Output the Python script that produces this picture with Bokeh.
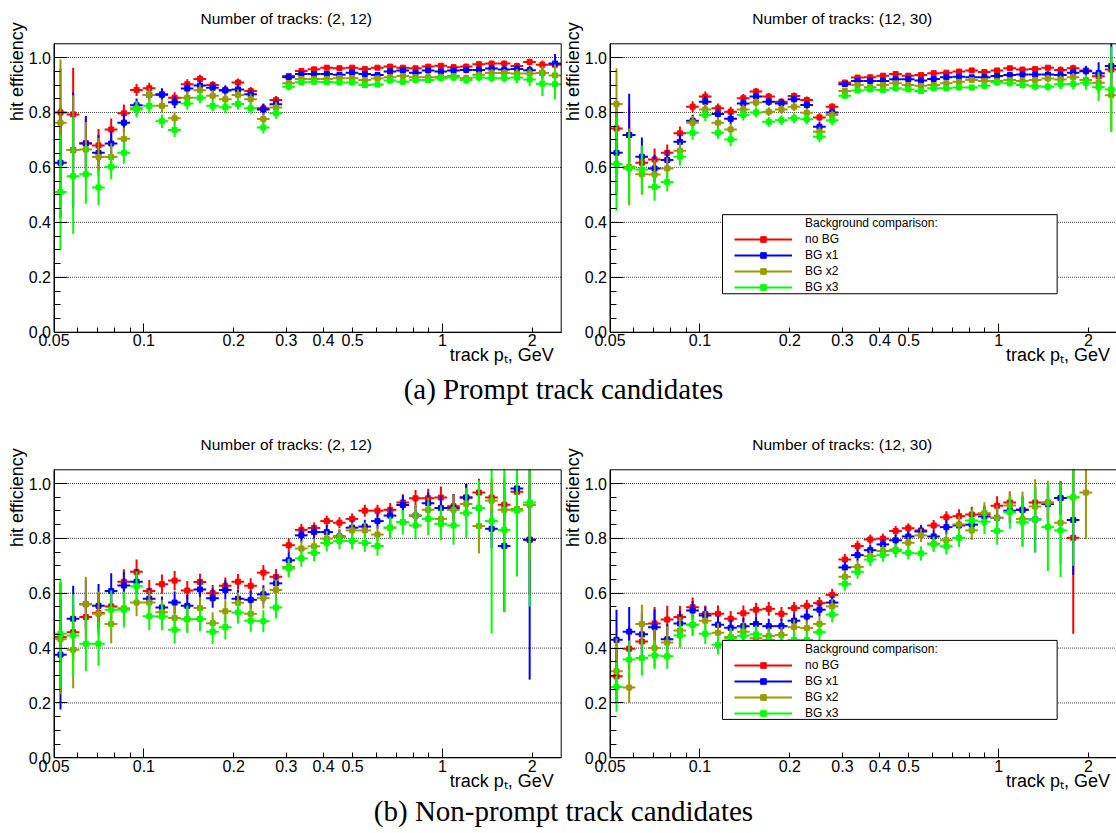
import math
from bokeh.plotting import figure
from bokeh.models import (ColumnDataSource, FixedTicker, PrintfTickFormatter,
                          CustomJSTickFormatter, Label, Legend, LegendItem,
                          BoxAnnotation, LogAxis, LinearAxis, Range1d)
from bokeh.layouts import column, row
from bokeh.embed import file_html
from bokeh.resources import INLINE

# ---------------- data ----------------
PT_EDGES = [0.05, 0.055137, 0.060802, 0.067049, 0.073938, 0.081534, 0.089911, 0.099149, 0.109336, 0.120570,
            0.132957, 0.146618, 0.161682, 0.178294, 0.196612, 0.216812, 0.239088, 0.263653, 0.290741, 0.320613,
            0.353553, 0.389878, 0.429936, 0.474108, 0.522819, 0.576535, 0.635770, 0.701090, 0.773122, 0.852559,
            0.940148, 1.036746, 1.143265, 1.260729, 1.390257, 1.533093, 1.690608, 1.864310, 2.055853, 2.267076,
            2.5]

SERIES_NAMES = ["no BG", "BG x1", "BG x2", "BG x3"]
SERIES_COLORS = ["#ff0000", "#0000ff", "#999900", "#00ff00"]
LEGEND_HEADER = "Background comparison:"
TITLES = ["Number of tracks: (2, 12)", "Number of tracks: (12, 30)"]
CAPTIONS = ["(a) Prompt track candidates", "(b) Non-prompt track candidates"]
Y_LABEL = "hit efficiency"
X_LABEL = "track p\u209c, GeV"

X_TICKS = [0.05, 0.1, 0.2, 0.3, 0.4, 0.5, 1, 2]
X_DECADE_TICKS = [0.1, 1]
X_MINOR = [0.06, 0.07, 0.08, 0.09, 0.6, 0.7, 0.8, 0.9]
Y_TICKS = [0.0, 0.2, 0.4, 0.6, 0.8, 1.0]
Y_MINOR = [0.05, 0.1, 0.15, 0.25, 0.3, 0.35, 0.45, 0.5, 0.55, 0.65, 0.7, 0.75, 0.85, 0.9, 0.95]
Y_GRID = [0.2, 0.4, 0.6, 0.8, 1.0]

# (a) prompt, tracks (2, 12)
A1_RED = [0.800, 0.793, 0.688, 0.680, 0.738, 0.797, 0.882, 0.888, 0.864, 0.854,
          0.903, 0.922, 0.900, 0.882, 0.909, 0.878, 0.815, 0.845, 0.933, 0.951,
          0.957, 0.963, 0.961, 0.963, 0.958, 0.963, 0.967, 0.963, 0.961, 0.967,
          0.970, 0.965, 0.967, 0.976, 0.978, 0.978, 0.969, 0.984, 0.974, 0.974]
A1_BLUE = [0.617, 0.663, 0.687, 0.653, 0.687, 0.763, 0.826, 0.864, 0.866, 0.837,
           0.887, 0.898, 0.890, 0.880, 0.884, 0.866, 0.811, 0.830, 0.928, 0.940,
           0.940, 0.940, 0.937, 0.945, 0.940, 0.936, 0.949, 0.953, 0.945, 0.953,
           0.949, 0.953, 0.955, 0.955, 0.960, 0.956, 0.958, 0.954, 0.944, 0.978]
A1_GOLD = [0.763, 0.663, 0.665, 0.638, 0.638, 0.704, 0.815, 0.864, 0.824, 0.779,
           0.854, 0.881, 0.861, 0.848, 0.864, 0.848, 0.776, 0.818, 0.906, 0.922,
           0.922, 0.922, 0.925, 0.925, 0.918, 0.924, 0.928, 0.933, 0.928, 0.928,
           0.930, 0.933, 0.925, 0.937, 0.944, 0.944, 0.942, 0.942, 0.944, 0.935]
A1_GREEN = [0.510, 0.568, 0.575, 0.527, 0.602, 0.653, 0.811, 0.824, 0.768, 0.736,
            0.833, 0.854, 0.824, 0.819, 0.831, 0.815, 0.745, 0.797, 0.894, 0.910,
            0.912, 0.911, 0.909, 0.909, 0.900, 0.902, 0.916, 0.912, 0.918, 0.918,
            0.925, 0.927, 0.918, 0.927, 0.925, 0.925, 0.927, 0.920, 0.905, 0.903]
A1_RED_ERR = [0.16, 0.17, 0.09, 0.06, 0.04, 0.032, 0.022, 0.02, 0.02, 0.02,
              0.018, 0.015, 0.015, 0.015, 0.015, 0.015, 0.018, 0.015, 0.01, 0.008,
              0.008, 0.008, 0.008, 0.008, 0.008, 0.008, 0.008, 0.008, 0.008, 0.008,
              0.008, 0.008, 0.01, 0.01, 0.01, 0.01, 0.012, 0.012, 0.015, 0.018]
A1_BLUE_ERR = [0.2, 0.21, 0.1, 0.065, 0.045, 0.035, 0.025, 0.022, 0.022, 0.022,
               0.02, 0.018, 0.018, 0.018, 0.018, 0.018, 0.02, 0.018, 0.012, 0.01,
               0.01, 0.01, 0.01, 0.01, 0.01, 0.01, 0.01, 0.01, 0.01, 0.01,
               0.01, 0.01, 0.012, 0.012, 0.012, 0.014, 0.015, 0.016, 0.02, 0.035]
A1_GOLD_ERR = [0.23, 0.2, 0.1, 0.07, 0.05, 0.04, 0.027, 0.024, 0.024, 0.024,
               0.022, 0.02, 0.02, 0.02, 0.02, 0.02, 0.022, 0.02, 0.012, 0.01,
               0.01, 0.01, 0.01, 0.01, 0.01, 0.01, 0.01, 0.01, 0.01, 0.01,
               0.011, 0.011, 0.012, 0.012, 0.013, 0.014, 0.016, 0.018, 0.025, 0.04]
A1_GREEN_ERR = [0.21, 0.21, 0.107, 0.065, 0.045, 0.04, 0.028, 0.025, 0.025, 0.025,
                0.022, 0.02, 0.02, 0.02, 0.02, 0.02, 0.022, 0.02, 0.013, 0.011,
                0.011, 0.011, 0.011, 0.011, 0.011, 0.011, 0.011, 0.011, 0.011, 0.012,
                0.012, 0.012, 0.013, 0.014, 0.015, 0.016, 0.02, 0.025, 0.045, 0.055]

# (a) prompt, tracks (12, 30)
A2_RED = [0.742, 0.718, 0.617, 0.629, 0.653, 0.724, 0.821, 0.858, 0.815, 0.803,
          0.852, 0.876, 0.858, 0.839, 0.860, 0.845, 0.782, 0.821, 0.909, 0.927,
          0.928, 0.934, 0.940, 0.934, 0.936, 0.943, 0.945, 0.949, 0.953, 0.947,
          0.953, 0.961, 0.956, 0.958, 0.963, 0.955, 0.961, 0.953, 0.932, 0.956]
A2_BLUE = [0.653, 0.718, 0.639, 0.596, 0.627, 0.693, 0.770, 0.839, 0.794, 0.777,
           0.833, 0.858, 0.839, 0.833, 0.848, 0.827, 0.748, 0.800, 0.903, 0.915,
           0.915, 0.915, 0.921, 0.921, 0.916, 0.922, 0.928, 0.930, 0.928, 0.928,
           0.933, 0.936, 0.938, 0.938, 0.938, 0.936, 0.945, 0.950, 0.943, 0.969]
A2_GOLD = [0.831, 0.602, 0.575, 0.574, 0.596, 0.661, 0.763, 0.811, 0.763, 0.738,
           0.811, 0.836, 0.803, 0.811, 0.821, 0.799, 0.730, 0.791, 0.878, 0.900,
           0.892, 0.900, 0.906, 0.900, 0.897, 0.900, 0.906, 0.912, 0.918, 0.915,
           0.915, 0.918, 0.915, 0.918, 0.924, 0.920, 0.928, 0.918, 0.908, 0.863]
A2_GREEN = [0.612, 0.596, 0.592, 0.529, 0.547, 0.639, 0.726, 0.791, 0.726, 0.702,
            0.791, 0.800, 0.766, 0.772, 0.779, 0.775, 0.712, 0.772, 0.861, 0.880,
            0.884, 0.882, 0.888, 0.884, 0.878, 0.888, 0.888, 0.891, 0.891, 0.897,
            0.909, 0.906, 0.900, 0.895, 0.894, 0.903, 0.904, 0.908, 0.892, 0.884]
A2_RED_ERR = [0.1, 0.1, 0.06, 0.04, 0.03, 0.025, 0.02, 0.018, 0.018, 0.018,
              0.015, 0.013, 0.013, 0.013, 0.013, 0.013, 0.015, 0.013, 0.008, 0.007,
              0.007, 0.007, 0.007, 0.007, 0.007, 0.007, 0.007, 0.007, 0.007, 0.008,
              0.008, 0.008, 0.01, 0.01, 0.01, 0.012, 0.013, 0.015, 0.02, 0.03]
A2_BLUE_ERR = [0.15, 0.15, 0.07, 0.05, 0.035, 0.028, 0.022, 0.02, 0.02, 0.02,
               0.017, 0.015, 0.015, 0.015, 0.015, 0.015, 0.017, 0.015, 0.009, 0.008,
               0.008, 0.008, 0.008, 0.008, 0.008, 0.008, 0.008, 0.008, 0.008, 0.009,
               0.009, 0.009, 0.011, 0.011, 0.012, 0.013, 0.015, 0.02, 0.04, 0.1]
A2_GOLD_ERR = [0.13, 0.14, 0.075, 0.055, 0.04, 0.03, 0.024, 0.02, 0.02, 0.022,
               0.018, 0.016, 0.016, 0.016, 0.016, 0.016, 0.018, 0.016, 0.01, 0.009,
               0.009, 0.009, 0.009, 0.009, 0.009, 0.009, 0.009, 0.009, 0.009, 0.01,
               0.01, 0.01, 0.012, 0.012, 0.013, 0.015, 0.016, 0.02, 0.04, 0.13]
A2_GREEN_ERR = [0.17, 0.13, 0.087, 0.05, 0.035, 0.032, 0.025, 0.022, 0.022, 0.024,
                0.02, 0.018, 0.018, 0.018, 0.018, 0.018, 0.02, 0.018, 0.011, 0.01,
                0.01, 0.01, 0.01, 0.01, 0.01, 0.01, 0.01, 0.01, 0.01, 0.011,
                0.011, 0.011, 0.013, 0.014, 0.015, 0.018, 0.02, 0.025, 0.05, 0.155]

# (b) non-prompt, tracks (2, 12)
B1_RED = [0.440, 0.458, 0.513, 0.528, 0.552, 0.642, 0.678, 0.608, 0.633, 0.646,
          0.610, 0.641, 0.600, 0.627, 0.642, 0.627, 0.675, 0.660, 0.775, 0.831,
          0.838, 0.863, 0.857, 0.871, 0.901, 0.901, 0.904, 0.931, 0.946, 0.946,
          0.949, 0.917, 0.949, 0.967, 0.949, 0.923, 0.970, 0.795, None, None]
B1_BLUE = [0.376, 0.507, 0.560, 0.554, 0.608, 0.628, 0.642, 0.580, 0.548, 0.566,
           0.554, 0.614, 0.582, 0.612, 0.580, 0.576, 0.596, 0.636, 0.720, 0.811,
           0.823, 0.823, 0.807, 0.839, 0.843, 0.863, 0.883, 0.922, 0.883, 0.928,
           0.911, 0.911, 0.949, 0.911, 0.835, 0.772, 0.982, 0.795, None, None]
B1_GOLD = [0.432, 0.394, 0.560, 0.525, 0.488, 0.545, 0.566, 0.566, 0.531, 0.510,
           0.505, 0.546, 0.491, 0.534, 0.565, 0.525, 0.582, 0.612, 0.696, 0.763,
           0.771, 0.799, 0.805, 0.829, 0.829, 0.814, 0.839, 0.859, 0.883, 0.904,
           0.871, 0.904, 0.925, 0.845, 0.937, 0.904, 0.907, 0.922, None, None]
B1_GREEN = [0.452, 0.446, 0.416, 0.416, 0.540, 0.540, 0.625, 0.516, 0.515, 0.467,
            0.505, 0.506, 0.460, 0.476, 0.530, 0.500, 0.498, 0.548, 0.690, 0.727,
            0.747, 0.783, 0.790, 0.790, 0.783, 0.772, 0.839, 0.859, 0.847, 0.871,
            0.853, 0.847, 0.892, 0.911, 0.863, 0.831, 0.901, 0.931, None, None]
B1_RED_ERR = [0.2, 0.1, 0.08, 0.07, 0.05, 0.045, 0.045, 0.04, 0.035, 0.035,
              0.035, 0.03, 0.03, 0.03, 0.028, 0.028, 0.028, 0.028, 0.025, 0.022,
              0.02, 0.02, 0.02, 0.02, 0.022, 0.022, 0.025, 0.03, 0.03, 0.035,
              0.04, 0.045, 0.05, 0.05, 0.055, 0.06, 0.05, 0.2, None, None]
B1_BLUE_ERR = [0.2, 0.12, 0.09, 0.08, 0.065, 0.05, 0.045, 0.04, 0.04, 0.04,
               0.04, 0.035, 0.035, 0.035, 0.033, 0.033, 0.033, 0.033, 0.03, 0.025,
               0.025, 0.025, 0.025, 0.025, 0.025, 0.028, 0.03, 0.035, 0.035, 0.04,
               0.045, 0.05, 0.05, 0.06, 0.07, 0.24, 0.05, 0.51, None, None]
B1_GOLD_ERR = [0.2, 0.14, 0.1, 0.08, 0.07, 0.06, 0.05, 0.045, 0.045, 0.045,
               0.045, 0.04, 0.04, 0.04, 0.038, 0.038, 0.038, 0.038, 0.03, 0.028,
               0.028, 0.028, 0.028, 0.028, 0.028, 0.03, 0.035, 0.04, 0.04, 0.045,
               0.05, 0.055, 0.06, 0.1, 0.08, 0.12, 0.24, 0.2, None, None]
B1_GREEN_ERR = [0.2, 0.15, 0.1, 0.08, 0.07, 0.065, 0.055, 0.05, 0.05, 0.05,
                0.05, 0.045, 0.045, 0.045, 0.04, 0.04, 0.04, 0.04, 0.032, 0.03,
                0.03, 0.03, 0.03, 0.03, 0.032, 0.035, 0.04, 0.045, 0.05, 0.06,
                0.06, 0.07, 0.09, 0.1, 0.41, 0.3, 0.24, 0.38, None, None]

# (b) non-prompt, tracks (12, 30)
B2_RED = [0.297, 0.398, 0.424, 0.490, 0.504, 0.513, 0.549, 0.525, 0.525, 0.507,
          0.527, 0.540, 0.543, 0.525, 0.546, 0.554, 0.564, 0.594, 0.723, 0.772,
          0.796, 0.799, 0.827, 0.837, 0.829, 0.847, 0.877, 0.881, 0.887, 0.889,
          0.919, 0.931, 0.904, 0.931, 0.931, 0.947, 0.802, None, None, None]
B2_BLUE = [0.430, 0.460, 0.450, 0.476, 0.432, 0.490, 0.537, 0.519, 0.485, 0.474,
           0.480, 0.488, 0.480, 0.480, 0.500, 0.515, 0.540, 0.566, 0.694, 0.739,
           0.757, 0.778, 0.793, 0.807, 0.825, 0.807, 0.841, 0.847, 0.850, 0.880,
           0.875, 0.901, 0.904, 0.869, 0.925, 0.947, 0.867, None, None, None]
B2_GOLD = [0.316, 0.256, 0.488, 0.400, 0.420, 0.464, 0.485, 0.500, 0.456, 0.440,
           0.460, 0.436, 0.444, 0.448, 0.476, 0.473, 0.488, 0.552, 0.660, 0.696,
           0.735, 0.754, 0.759, 0.784, 0.811, 0.781, 0.793, 0.851, 0.829, 0.892,
           0.875, 0.920, 0.871, 0.916, 0.930, 0.857, 0.949, 0.967, None, None]
B2_GREEN = [0.258, 0.358, 0.364, 0.373, 0.370, 0.446, 0.485, 0.452, 0.412, 0.435,
            0.445, 0.450, 0.430, 0.420, 0.430, 0.430, 0.458, 0.522, 0.634, 0.678,
            0.723, 0.739, 0.754, 0.747, 0.745, 0.778, 0.771, 0.802, 0.865, 0.861,
            0.827, 0.895, 0.859, 0.869, 0.841, 0.829, 0.950, None, None, None]
B2_RED_ERR = [0.1, 0.08, 0.07, 0.06, 0.05, 0.04, 0.035, 0.03, 0.03, 0.028,
              0.028, 0.025, 0.025, 0.025, 0.022, 0.022, 0.022, 0.022, 0.02, 0.02,
              0.018, 0.018, 0.018, 0.018, 0.02, 0.02, 0.022, 0.025, 0.028, 0.03,
              0.035, 0.04, 0.045, 0.05, 0.06, 0.06, 0.35, None, None, None]
B2_BLUE_ERR = [0.11, 0.09, 0.08, 0.065, 0.055, 0.045, 0.035, 0.032, 0.032, 0.03,
               0.03, 0.027, 0.027, 0.027, 0.025, 0.025, 0.025, 0.024, 0.022, 0.022,
               0.02, 0.02, 0.02, 0.02, 0.022, 0.022, 0.025, 0.028, 0.03, 0.035,
               0.04, 0.045, 0.05, 0.12, 0.06, 0.06, 0.2, None, None, None]
B2_GOLD_ERR = [0.12, 0.055, 0.07, 0.07, 0.06, 0.05, 0.04, 0.035, 0.035, 0.033,
               0.033, 0.03, 0.03, 0.03, 0.028, 0.028, 0.028, 0.027, 0.024, 0.024,
               0.022, 0.022, 0.022, 0.022, 0.024, 0.025, 0.028, 0.03, 0.035, 0.04,
               0.045, 0.05, 0.1, 0.1, 0.08, 0.15, 0.1, 0.17, None, None]
B2_GREEN_ERR = [0.09, 0.07, 0.065, 0.05, 0.045, 0.045, 0.04, 0.037, 0.035, 0.035,
                0.035, 0.032, 0.032, 0.032, 0.03, 0.03, 0.03, 0.028, 0.025, 0.025,
                0.024, 0.024, 0.024, 0.024, 0.026, 0.028, 0.03, 0.033, 0.04, 0.045,
                0.05, 0.06, 0.09, 0.12, 0.16, 0.17, 0.25, None, None, None]

# ---------------- styling / geometry ----------------
SANS = "Liberation Sans"
SERIF = "Liberation Serif"
X_MIN, X_MAX = 0.05, 2.5
Y_MIN, Y_MAX = 0.0, 1.05
LEGEND_BOX = dict(left=0.119, right=1.57, bottom=0.14, top=0.428)

TOP_H, CAPA_H, BOT_H, CAPB_H = 368, 44, 380, 41
LEFT_W, RIGHT_W = 562, 554
# ROOT frame position inside each canvas (px from canvas left / top)
FRAME_X = {"left": (53.5, 560.7), "right": (47.5, 555.0)}
FRAME_Y = {"top": (43.3, 331.7), "bottom": (57.3, 345.3)}
# Bokeh places "alphabetic" text a bit low; compensate (fraction of font size)
BASE_FIX = 0.29

TITLE_FS, AXLAB_FS, CAP_FS = 15.5, 18, 29


def add_series(p, vals, errs, color):
    xc, xl, xr, yv, ylo, yhi = [], [], [], [], [], []
    for i, (v, e) in enumerate(zip(vals, errs)):
        if v is None:
            continue
        lo, hi = PT_EDGES[i], PT_EDGES[i + 1]
        xc.append(0.5 * (lo + hi))
        xl.append(lo)
        xr.append(hi)
        yv.append(v)
        ylo.append(max(v - e, Y_MIN))
        yhi.append(min(v + e, Y_MAX))
    src = ColumnDataSource(dict(xc=xc, xl=xl, xr=xr, y=yv, ylo=ylo, yhi=yhi))
    p.segment(x0="xc", y0="ylo", x1="xc", y1="yhi", source=src,
              line_color=color, line_width=2)
    h = p.segment(x0="xl", y0="y", x1="xr", y1="y", source=src,
                  line_color=color, line_width=2)
    m = p.scatter(x="xc", y="y", source=src, marker="square", size=5,
                  fill_color=color, line_color=color, line_width=1)
    return h, m


def style_xaxis(ax, tick_in, minor_in):
    ax.major_tick_in = tick_in
    ax.major_tick_out = 0
    ax.minor_tick_in = minor_in
    ax.minor_tick_out = 0
    ax.major_label_standoff = 2
    ax.major_label_text_font = SANS
    ax.major_label_text_font_size = "16px"
    ax.major_label_text_color = "black"
    ax.axis_line_color = "black"


def make_panel(vals4, errs4, title, col, rowpos):
    W = LEFT_W if col == "left" else RIGHT_W
    H = TOP_H if rowpos == "top" else BOT_H
    L, R = FRAME_X[col]
    T, B = FRAME_Y[rowpos]
    decades = math.log10(X_MAX / X_MIN)
    ppd = (R - L) / decades
    ppu = (B - T) / (Y_MAX - Y_MIN)
    x_start = 10 ** (math.log10(X_MIN) - L / ppd)
    x_end = 10 ** (math.log10(X_MAX) + (W - R) / ppd)
    y_start = Y_MIN - (H - B) / ppu
    y_end = Y_MAX + T / ppu

    p = figure(width=W, height=H, x_axis_type="log",
               x_range=Range1d(x_start, x_end), y_range=Range1d(y_start, y_end),
               output_backend="svg", toolbar_location=None, title=None,
               min_border=0, x_axis_location=None, y_axis_location=None)
    p.background_fill_color = "white"
    p.border_fill_color = "white"
    p.outline_line_color = None
    p.grid.visible = False

    # dotted horizontal grid lines inside the frame
    p.segment(x0=[X_MIN] * len(Y_GRID), x1=[X_MAX] * len(Y_GRID), y0=Y_GRID, y1=Y_GRID,
              line_color="#333333", line_width=1, line_dash="1 1", line_alpha=0.9)

    handles = []
    for vals, errs, color in zip(vals4, errs4, SERIES_COLORS):
        handles.append(add_series(p, vals, errs, color))

    # frame box
    p.add_layout(BoxAnnotation(left=X_MIN, right=X_MAX, bottom=Y_MIN, top=Y_MAX,
                               fill_alpha=0.0, line_color="black", line_width=1,
                               line_alpha=1.0))

    ya = LinearAxis(fixed_location=X_MIN, bounds=(Y_MIN, Y_MAX),
                    ticker=FixedTicker(ticks=Y_TICKS, minor_ticks=Y_MINOR),
                    formatter=PrintfTickFormatter(format="%.1f"))
    ya.major_tick_in = 13
    ya.major_tick_out = 0
    ya.minor_tick_in = 6
    ya.minor_tick_out = 0
    ya.major_label_standoff = 3
    ya.major_label_text_font = SANS
    ya.major_label_text_font_size = "16px"
    ya.major_label_text_color = "black"
    ya.axis_line_color = "black"
    p.add_layout(ya, "left")

    xa = LogAxis(fixed_location=Y_MIN, bounds=(X_MIN, X_MAX),
                 ticker=FixedTicker(ticks=X_TICKS, minor_ticks=X_MINOR),
                 formatter=CustomJSTickFormatter(code="return tick.toString();"))
    style_xaxis(xa, 5, 5)
    p.add_layout(xa, "below")

    # longer ticks at the decades (0.1, 1), as in the original axis
    xd = LogAxis(fixed_location=Y_MIN, bounds=(X_MIN, X_MAX),
                 ticker=FixedTicker(ticks=X_DECADE_TICKS, minor_ticks=[]),
                 formatter=CustomJSTickFormatter(code="return '';"))
    style_xaxis(xd, 9, 0)
    xd.major_label_text_color = None
    p.add_layout(xd, "below")

    # texts (screen units: from canvas left / canvas bottom)
    p.add_layout(Label(x=L + 232.2, y=H - (T - 20.6) + BASE_FIX * TITLE_FS,
                       x_units="screen", y_units="screen",
                       text=title, text_align="center", text_baseline="alphabetic",
                       text_font=SANS, text_font_size=f"{TITLE_FS}px", text_color="black"))
    p.add_layout(Label(x=L - 32 - BASE_FIX * AXLAB_FS, y=H - (T - 21.5),
                       x_units="screen", y_units="screen",
                       text=Y_LABEL, angle=math.pi / 2, text_align="right",
                       text_baseline="alphabetic", text_font=SANS,
                       text_font_size=f"{AXLAB_FS}px", text_color="black"))
    p.add_layout(Label(x=R - 7.5, y=H - (B + 28) + BASE_FIX * AXLAB_FS,
                       x_units="screen", y_units="screen",
                       text=X_LABEL, text_align="right", text_baseline="alphabetic",
                       text_font=SANS, text_font_size=f"{AXLAB_FS}px", text_color="black"))

    if col == "right":
        p.add_layout(BoxAnnotation(fill_color="white", fill_alpha=1.0,
                                   line_color="black", line_width=1, line_alpha=1.0,
                                   **LEGEND_BOX))
        dummy = p.scatter(x=[], y=[], marker="square", size=0, alpha=0)
        items = [LegendItem(label=LEGEND_HEADER, renderers=[dummy])]
        for name, (h, m) in zip(SERIES_NAMES, handles):
            items.append(LegendItem(label=name, renderers=[h, m]))
        box_left_px = L + math.log10(LEGEND_BOX["left"] / X_MIN) * ppd
        box_top_py = B - (LEGEND_BOX["top"] - Y_MIN) * ppu
        pad, spacing, item_h = 2, 2, 14
        leg_h = 2 * pad + len(items) * item_h + (len(items) - 1) * spacing
        legend = Legend(items=items, location=(box_left_px + 10, H - (box_top_py + leg_h)),
                        padding=pad, spacing=spacing, margin=0,
                        glyph_width=58, glyph_height=item_h, label_height=item_h,
                        label_standoff=13, label_text_font=SANS,
                        label_text_font_size="12px", label_text_color="black",
                        background_fill_alpha=0.0, border_line_alpha=0.0)
        p.add_layout(legend)
    return p


def make_caption(text, height, baseline_from_top):
    width = LEFT_W + RIGHT_W
    c = figure(width=width, height=height, x_range=Range1d(0, width),
               y_range=Range1d(0, height), output_backend="svg",
               toolbar_location=None, title=None, min_border=0,
               x_axis_location=None, y_axis_location=None)
    c.grid.visible = False
    c.outline_line_color = None
    c.background_fill_color = "white"
    c.border_fill_color = "white"
    c.add_layout(Label(x=563, y=height - baseline_from_top + BASE_FIX * CAP_FS,
                       x_units="screen", y_units="screen",
                       text=text, text_align="center",
                       text_baseline="alphabetic", text_font=SERIF,
                       text_font_size=f"{CAP_FS}px", text_color="black"))
    return c


A1 = make_panel([A1_RED, A1_BLUE, A1_GOLD, A1_GREEN],
                [A1_RED_ERR, A1_BLUE_ERR, A1_GOLD_ERR, A1_GREEN_ERR],
                TITLES[0], "left", "top")
A2 = make_panel([A2_RED, A2_BLUE, A2_GOLD, A2_GREEN],
                [A2_RED_ERR, A2_BLUE_ERR, A2_GOLD_ERR, A2_GREEN_ERR],
                TITLES[1], "right", "top")
B1 = make_panel([B1_RED, B1_BLUE, B1_GOLD, B1_GREEN],
                [B1_RED_ERR, B1_BLUE_ERR, B1_GOLD_ERR, B1_GREEN_ERR],
                TITLES[0], "left", "bottom")
B2 = make_panel([B2_RED, B2_BLUE, B2_GOLD, B2_GREEN],
                [B2_RED_ERR, B2_BLUE_ERR, B2_GOLD_ERR, B2_GREEN_ERR],
                TITLES[1], "right", "bottom")

cap_a = make_caption(CAPTIONS[0], CAPA_H, 397 - TOP_H)
cap_b = make_caption(CAPTIONS[1], CAPB_H, 819 - (TOP_H + CAPA_H + BOT_H))

layout = column(row(A1, A2), cap_a, row(B1, B2), cap_b)

with open("out.html", "w") as f:
    f.write(file_html(layout, INLINE))
